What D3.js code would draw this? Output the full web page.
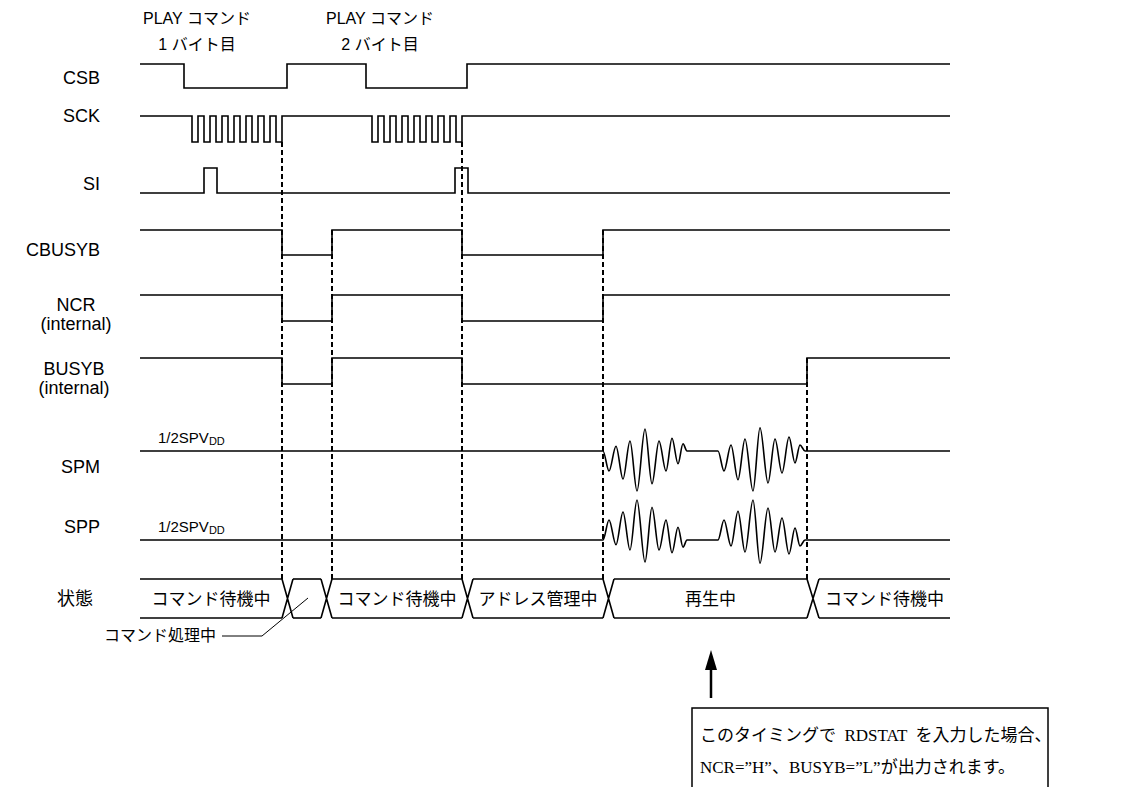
<!DOCTYPE html>
<html>
<head>
<meta charset="utf-8">
<script src="https://cdn.jsdelivr.net/npm/d3@7/dist/d3.min.js"></script>
<style>
  body { margin: 0; background: #fff; }
  text { font-family: "Liberation Sans", Arial, "Noto Sans CJK JP", sans-serif; fill: #000; }
  .jp { font-family: "Noto Sans CJK JP", sans-serif; }
  .note text { font-family: "Liberation Serif", "Noto Sans CJK JP", serif; white-space: pre; }
</style>
</head>
<body>
<div id="timing"></div>
<script>
// Time runs from 0 to 810 across the diagram
var timeDomain = [0, 810];

// Digital signals: level at time 0 and the times where they toggle
var signalNames = ["CSB", "SCK", "SI", "CBUSYB", "NCR", "BUSYB"];
var signalStart = [1, 1, 0, 1, 1, 1];
var csbEdges = [44, 147, 226, 327];
var sckEdges = [52, 58, 64, 70, 76, 82, 88, 94, 100, 106, 112, 118, 124, 130, 136, 142,
                232, 238, 244, 250, 256, 262, 268, 274, 280, 286, 292, 298, 304, 310, 316, 322];
var siEdges = [64, 77, 315, 328];
var cbusybEdges = [142, 192, 322, 463];
var ncrEdges = [142, 192, 322, 463];
var busybEdges = [142, 192, 322, 667];
var signalEdges = [csbEdges, sckEdges, siEdges, cbusybEdges, ncrEdges, busybEdges];

// Speaker output bursts (SPM), amplitude relative to 1/2SPVdd, up = positive
var burst1Times = [463, 469, 476, 483, 490, 497, 505, 512, 519, 526, 532, 538, 543, 547];
var burst1Amp   = [0, -0.5, 0.12, -0.7, 0.25, -1.0, 0.55, -0.82, 0.25, -0.5, 0.32, -0.32, 0.18, 0];
var burst2Times = [578, 584, 591, 598, 605, 613, 620, 628, 635, 642, 649, 655, 660, 665];
var burst2Amp   = [0, -0.5, 0.15, -0.72, 0.3, -1.0, 0.58, -0.8, 0.3, -0.55, 0.35, -0.3, 0.15, 0];

// Dashed reference lines
var markerTimes = [142, 192, 322, 463, 667];

// State row
var stateCross = [[142, 153], [181, 192], [322, 333], [463, 474], [667, 679]];
var stateLabels = ["コマンド待機中", "", "コマンド待機中", "アドレス管理中", "再生中", "コマンド待機中"];

// Headers above CSB
var titleTimes = [57, 240];
var titleLines = [["PLAY コマンド", "1 バイト目"], ["PLAY コマンド", "2 バイト目"]];

var noteLines = ["このタイミングで  RDSTAT  を入力した場合、", "NCR=”H”、BUSYB=”L”が出力されます。"];
var arrowTime = 571;

// Layout
var width = 1128,
    height = 787;
var rowHi = [64, 116, 168, 230, 295, 358],
    rowLo = [88, 142, 193, 255, 321, 384];
var spmBase = 451,
    sppBase = 540,
    stateTop = 579,
    stateBot = 618;
var markerTop = [142, 230, 142, 230, 358];

var x = d3.scaleLinear()
          .domain(timeDomain)
          .range([140, 950]);

var svg = d3.select("#timing")
            .append("svg")
              .attr("width", width)
              .attr("height", height);

var line = d3.line()
             .x(function(d) { return d[0]; })
             .y(function(d) { return d[1]; });

// Digital waveforms
signalEdges.forEach(function(edges, i) {
  var level = signalStart[i];
  var yOf = function(l) { return l ? rowHi[i] : rowLo[i]; };
  var pts = [[x(timeDomain[0]), yOf(level)]];
  edges.forEach(function(t) {
    pts.push([x(t), yOf(level)]);
    level = 1 - level;
    pts.push([x(t), yOf(level)]);
  });
  pts.push([x(timeDomain[1]), yOf(level)]);

  svg.append("path")
    .attr("d", line(pts))
    .attr("fill", "none")
    .attr("stroke", "#000")
    .attr("stroke-width", 1.6);
});

// Analog outputs
var amp = d3.scaleLinear().domain([0, 1]).range([0, 40]);
var analog = [[timeDomain[0], 0]];
burst1Times.forEach(function(t, i) { analog.push([t, burst1Amp[i]]); });
burst2Times.forEach(function(t, i) { analog.push([t, burst2Amp[i]]); });
analog.push([timeDomain[1], 0]);

var curve = d3.line()
              .curve(d3.curveMonotoneX)
              .x(function(d) { return x(d[0]); });

svg.append("path")
  .attr("d", curve.y(function(d) { return spmBase - amp(d[1]); })(analog))
  .attr("fill", "none")
  .attr("stroke", "#000")
  .attr("stroke-width", 1.6);

svg.append("path")
  .attr("d", curve.y(function(d) { return sppBase + amp(d[1]); })(analog))
  .attr("fill", "none")
  .attr("stroke", "#000")
  .attr("stroke-width", 1.6);

// 1/2SPVdd captions
[spmBase, sppBase].forEach(function(b) {
  var t = svg.append("text")
            .attr("x", 158)
            .attr("y", b - 8)
            .attr("font-size", 15);
  t.append("tspan").text("1/2SPV");
  t.append("tspan").attr("font-size", 11).attr("dy", 2).text("DD");
});

// Dashed lines
svg.selectAll(".marker")
  .data(markerTimes)
  .enter()
  .append("line")
    .attr("class", "marker")
    .attr("x1", function(d) { return x(d); })
    .attr("x2", function(d) { return x(d); })
    .attr("y1", function(d, i) { return markerTop[i]; })
    .attr("y2", stateTop)
    .attr("stroke", "#000")
    .attr("stroke-width", 2)
    .attr("stroke-dasharray", "5,3");

// State row: segments between crossings
var segs = [];
var prev = timeDomain[0];
stateCross.forEach(function(c) {
  segs.push([prev, c[0]]);
  prev = c[1];
});
segs.push([prev, timeDomain[1]]);

segs.forEach(function(s, i) {
  [stateTop, stateBot].forEach(function(yy) {
    svg.append("line")
      .attr("x1", x(s[0])).attr("x2", x(s[1]))
      .attr("y1", yy).attr("y2", yy)
      .attr("stroke", "#000")
      .attr("stroke-width", 1.6);
  });
  svg.append("text")
    .attr("class", "jp")
    .attr("x", x((s[0] + s[1]) / 2))
    .attr("y", (stateTop + stateBot) / 2 + 6)
    .attr("text-anchor", "middle")
    .attr("font-size", 17)
    .text(stateLabels[i]);
});

stateCross.forEach(function(c) {
  svg.append("path")
    .attr("d", line([[x(c[0]), stateTop], [x(c[1]), stateBot]]) + line([[x(c[0]), stateBot], [x(c[1]), stateTop]]))
    .attr("fill", "none")
    .attr("stroke", "#000")
    .attr("stroke-width", 1.6);
});

// "コマンド処理中" pointer
svg.append("text")
  .attr("class", "jp")
  .attr("x", 216)
  .attr("y", 641)
  .attr("text-anchor", "end")
  .attr("font-size", 16)
  .text("コマンド処理中");

svg.append("path")
  .attr("d", line([[222, 636], [262, 636], [308, 598]]))
  .attr("fill", "none")
  .attr("stroke", "#000")
  .attr("stroke-width", 1);

// Signal names
var labelRows = [
  {lines: ["CSB"], y: 78, anchor: "end", x: 100},
  {lines: ["SCK"], y: 116, anchor: "end", x: 100},
  {lines: ["SI"], y: 184, anchor: "end", x: 100},
  {lines: ["CBUSYB"], y: 250, anchor: "end", x: 100},
  {lines: ["NCR", "(internal)"], y: 305, anchor: "middle", x: 76},
  {lines: ["BUSYB", "(internal)"], y: 369, anchor: "middle", x: 74},
  {lines: ["SPM"], y: 467, anchor: "end", x: 100},
  {lines: ["SPP"], y: 527, anchor: "end", x: 100}
];
labelRows.forEach(function(r) {
  r.lines.forEach(function(s, j) {
    svg.append("text")
      .attr("x", r.x)
      .attr("y", r.y + 6 + j * 19)
      .attr("text-anchor", r.anchor)
      .attr("font-size", 18)
      .text(s);
  });
});

svg.append("text")
  .attr("class", "jp")
  .attr("x", 75)
  .attr("y", 605)
  .attr("text-anchor", "middle")
  .attr("font-size", 18)
  .text("状態");

// Headers
titleTimes.forEach(function(t, i) {
  titleLines[i].forEach(function(s, j) {
    svg.append("text")
      .attr("x", x(t))
      .attr("y", 24 + j * 26)
      .attr("text-anchor", "middle")
      .attr("font-size", 16)
      .text(s);
  });
});

// Arrow
var ax = x(arrowTime);
svg.append("line")
  .attr("x1", ax).attr("x2", ax)
  .attr("y1", 668).attr("y2", 698)
  .attr("stroke", "#000")
  .attr("stroke-width", 2.5);
svg.append("path")
  .attr("d", "M" + ax + ",650L" + (ax - 6) + ",670L" + (ax + 6) + ",670Z")
  .attr("fill", "#000");

// Note box
var note = svg.append("g").attr("class", "note");
note.append("rect")
  .attr("x", 692)
  .attr("y", 708)
  .attr("width", 356)
  .attr("height", 120)
  .attr("fill", "none")
  .attr("stroke", "#000")
  .attr("stroke-width", 1.5);
noteLines.forEach(function(s, j) {
  note.append("text")
    .attr("x", 700)
    .attr("y", 741 + j * 32)
    .attr("font-size", 17)
    .text(s);
});
</script>
</body>
</html>
